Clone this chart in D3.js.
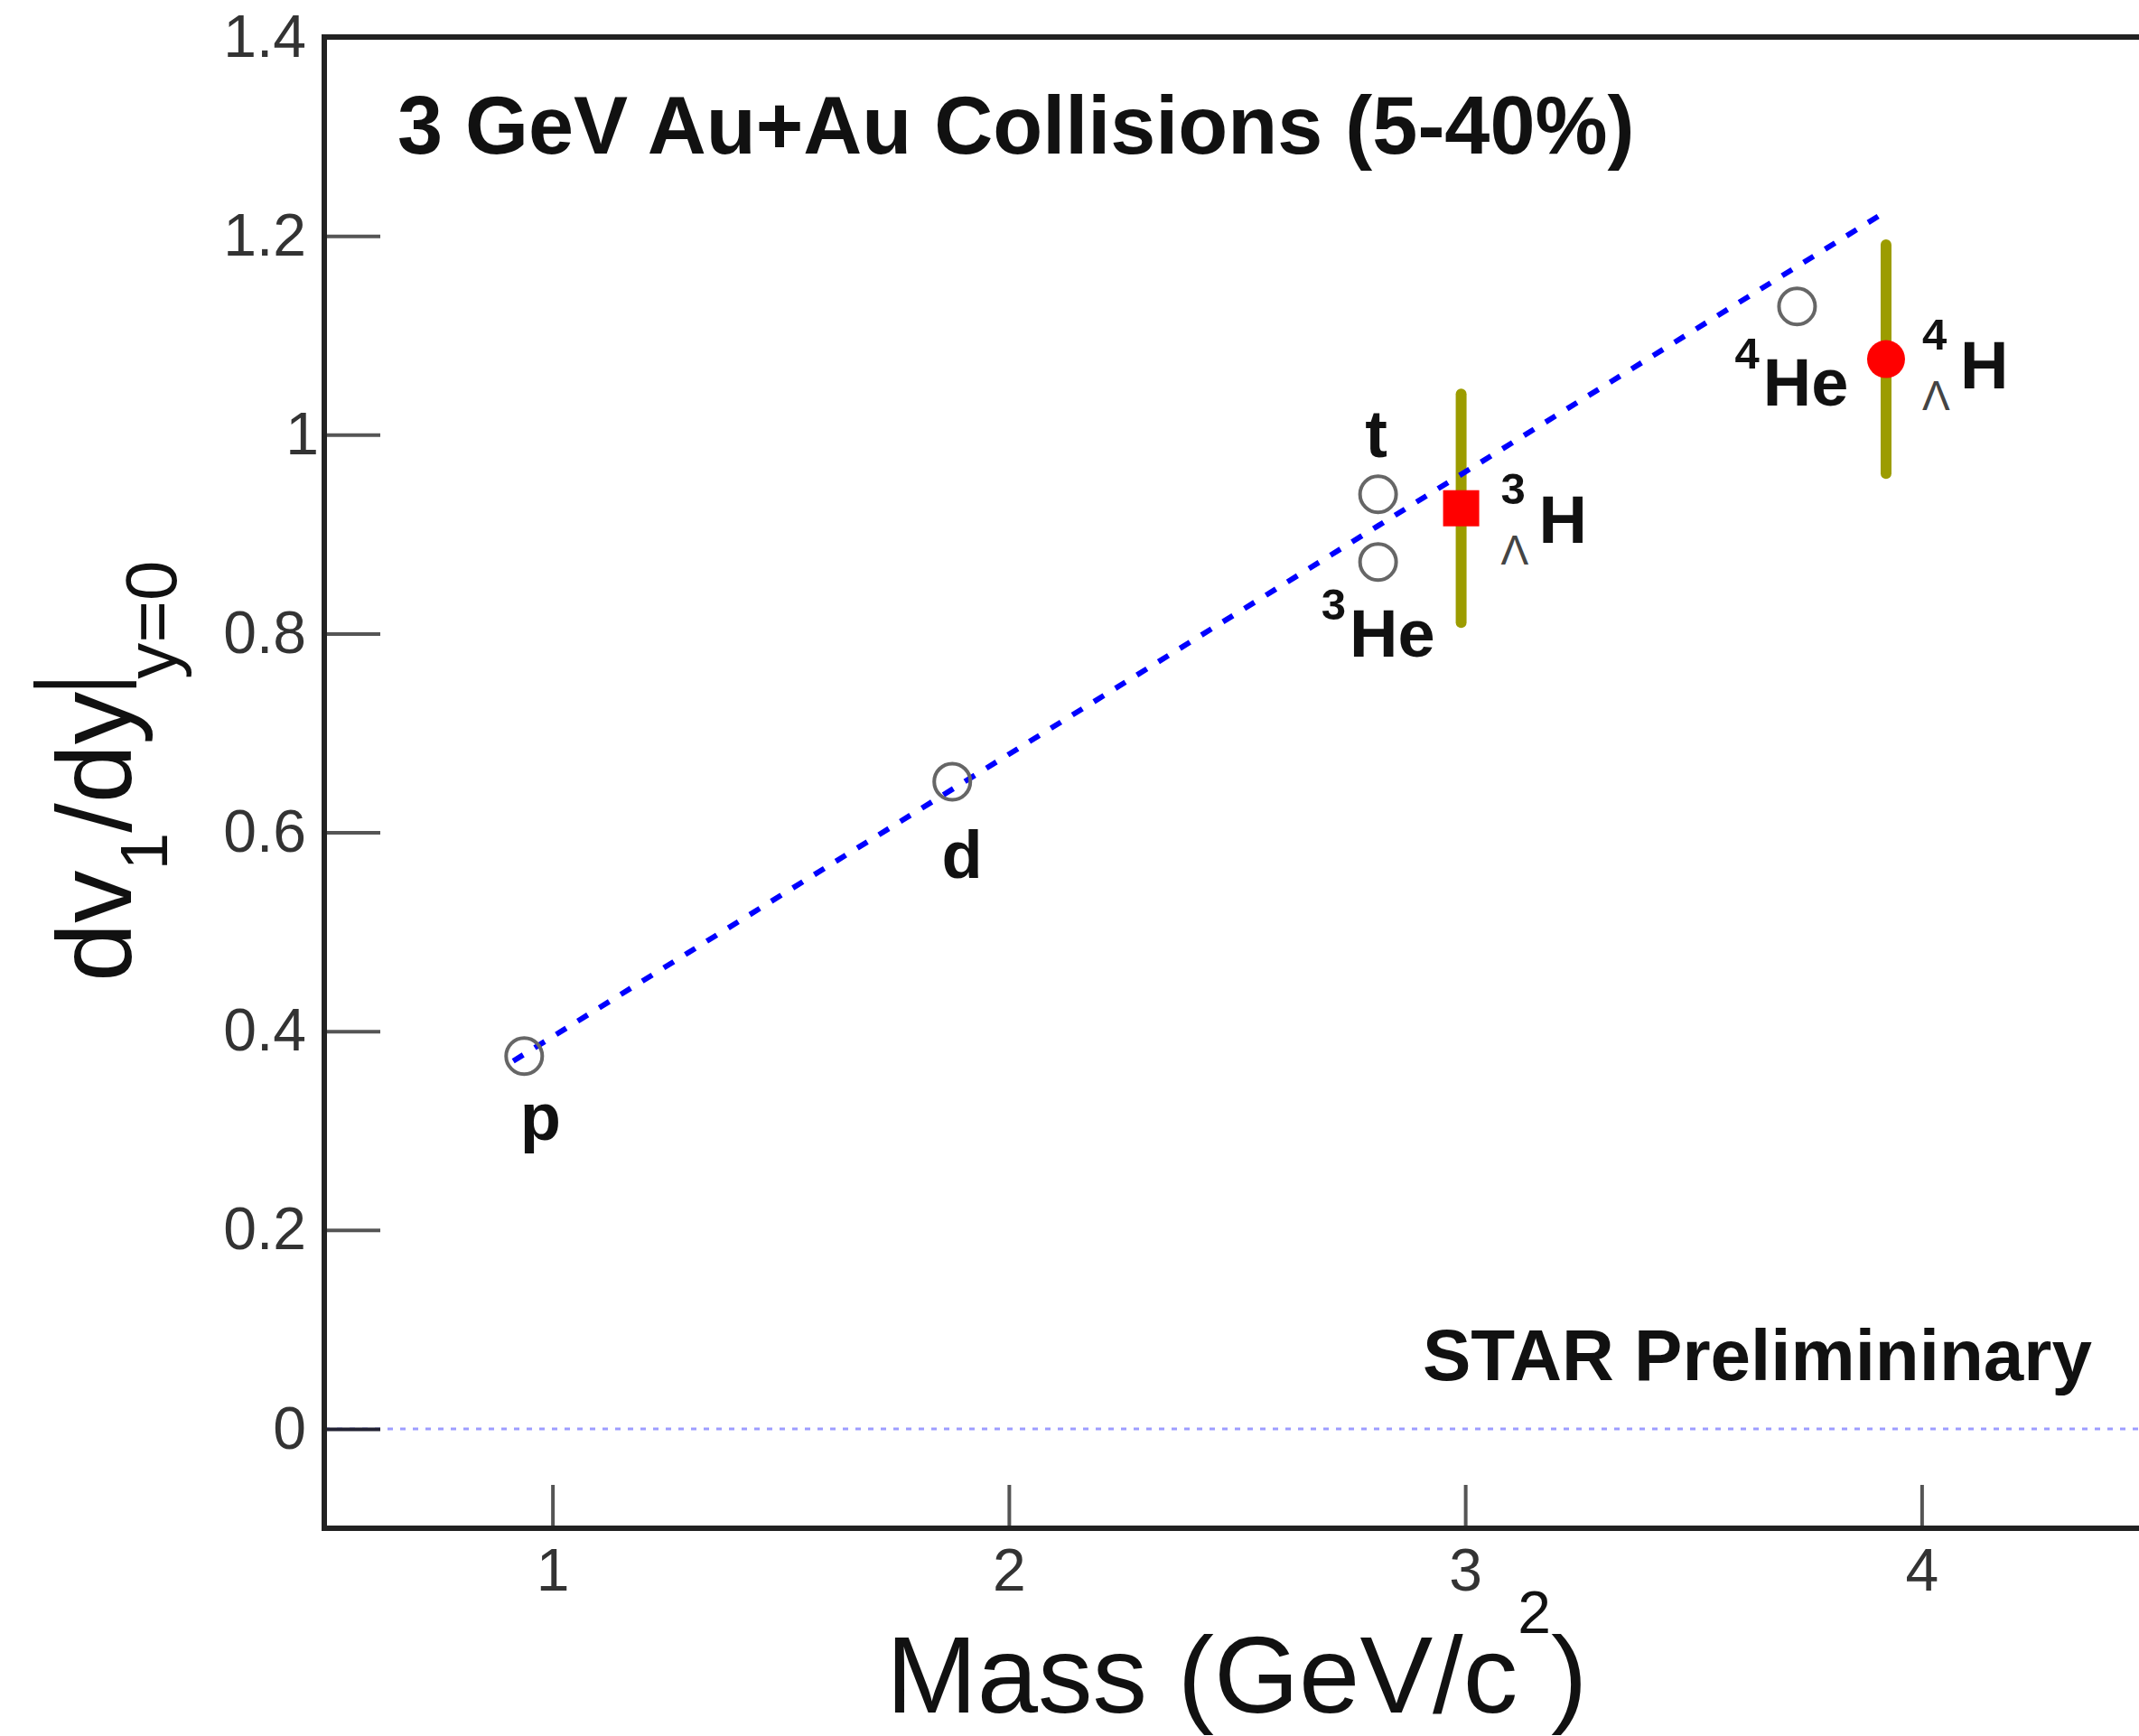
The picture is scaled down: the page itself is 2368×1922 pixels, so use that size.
<!DOCTYPE html>
<html>
<head>
<meta charset="UTF-8">
<script src="https://d3js.org/d3.v7.min.js"></script>
<style>
    body { margin: 0; background: #fff; }
    svg { display: block; font-family: "Liberation Sans", Arial, sans-serif; }
</style>
</head>
<body>
<svg width="2368" height="1922"></svg>
<script>
// light nuclei: mass (GeV/c^2) and dv1/dy slope
const nuclei = ["p", "d", "t", "3He", "4He"];
const nucleiMass = [0.938, 1.876, 2.809, 2.809, 3.727];
const nucleiSlope = [0.375, 0.651, 0.940, 0.872, 1.129];

// hypernuclei with error bars
const hyper = ["3LH", "4LH"];
const hyperMass = [2.991, 3.922];
const hyperSlope = [0.926, 1.076];
const hyperErr = [0.115, 0.115];

// mass scaling line
const fitMass = [0.914, 3.92];
const fitSlope = [0.370, 1.224];

const xTicks = [1, 2, 3, 4];
const yTicks = [0, 0.2, 0.4, 0.6, 0.8, 1, 1.2, 1.4];

const svg = d3.select("svg");
const x = d3.scaleLinear().domain([0.5, 4.5]).range([359, 2380]);
const y = d3.scaleLinear().domain([-0.1, 1.4]).range([1692, 41]);

// zero line
svg.append("line")
    .attr("x1", x(0.5)).attr("x2", x(4.5))
    .attr("y1", y(0)).attr("y2", y(0))
    .attr("stroke", "#9d9dff").attr("stroke-width", 3)
    .attr("stroke-dasharray", "6,8");

// axes
const yAxis = svg.append("g")
    .attr("transform", `translate(${x(0.5)},0)`)
    .call(d3.axisLeft(y).tickValues(yTicks).tickSize(-62).tickPadding(20)
        .tickFormat(d3.format("~g")));
const xAxis = svg.append("g")
    .attr("transform", `translate(0,${y(-0.1)})`)
    .call(d3.axisBottom(x).tickValues(xTicks).tickSize(-48).tickPadding(22)
        .tickFormat(d3.format("d")));

[xAxis, yAxis].forEach(g => {
    g.select(".domain").remove();
    g.selectAll(".tick line").attr("stroke", "#555").attr("stroke-width", 4);
    g.selectAll(".tick text")
        .attr("font-size", 66)
        .attr("font-family", "Liberation Sans, Arial, sans-serif")
        .attr("fill", "#333");
});
yAxis.selectAll(".tick").filter(d => d === 0).select("line").attr("stroke", "#223");
yAxis.selectAll(".tick").filter(d => d === 1).select("text").attr("dx", 14);

// frame
const frame = svg.append("g").attr("stroke", "#222").attr("stroke-width", 6).attr("fill", "none");
frame.append("path")
    .attr("d", `M${x(4.5)},${y(1.4)}H${x(0.5)}V${y(-0.1)}H${x(4.5)}`);

// error bars
svg.selectAll(".err")
    .data(hyper)
    .join("line")
    .attr("x1", (d, i) => x(hyperMass[i]))
    .attr("x2", (d, i) => x(hyperMass[i]))
    .attr("y1", (d, i) => y(hyperSlope[i] - hyperErr[i]))
    .attr("y2", (d, i) => y(hyperSlope[i] + hyperErr[i]))
    .attr("stroke", "#9c9c00")
    .attr("stroke-width", 12)
    .attr("stroke-linecap", "round");

// fit line
svg.append("path")
    .datum(d3.zip(fitMass, fitSlope))
    .attr("d", d3.line().x(d => x(d[0])).y(d => y(d[1])))
    .attr("fill", "none")
    .attr("stroke", "#0000ff")
    .attr("stroke-width", 6)
    .attr("stroke-dasharray", "13,15");

// open circles
svg.selectAll(".nuc")
    .data(nuclei)
    .join("circle")
    .attr("cx", (d, i) => x(nucleiMass[i]))
    .attr("cy", (d, i) => y(nucleiSlope[i]))
    .attr("r", 20)
    .attr("fill", "none")
    .attr("stroke", "#666")
    .attr("stroke-width", 4);

// hypernuclei markers
svg.append("rect")
    .attr("x", x(hyperMass[0]) - 20).attr("y", y(hyperSlope[0]) - 20)
    .attr("width", 40).attr("height", 40)
    .attr("fill", "#ff0000");
svg.append("circle")
    .attr("cx", x(hyperMass[1])).attr("cy", y(hyperSlope[1]))
    .attr("r", 21)
    .attr("fill", "#ff0000");

// nucleus labels
const lab = svg.append("g").attr("font-weight", "bold").attr("font-size", 74).attr("fill", "#111");
const simpleLabels = [
    { i: 0, dx: 18, dy: 93 },
    { i: 1, dx: 11, dy: 107 },
    { i: 2, dx: -2, dy: -41 }
];
simpleLabels.forEach(o => {
    lab.append("text")
        .attr("x", x(nucleiMass[o.i]) + o.dx)
        .attr("y", y(nucleiSlope[o.i]) + o.dy)
        .attr("text-anchor", "middle")
        .text(nuclei[o.i]);
});
const heLabels = [
    { i: 3, sup: "3", dx: 63, dy: 105 },
    { i: 4, sup: "4", dx: 57, dy: 110 }
];
heLabels.forEach(o => {
    const t = lab.append("text")
        .attr("x", x(nucleiMass[o.i]) + o.dx)
        .attr("y", y(nucleiSlope[o.i]) + o.dy)
        .attr("text-anchor", "end");
    t.append("tspan").attr("font-size", 49).attr("dy", -41).text(o.sup);
    t.append("tspan").attr("dy", 41).attr("dx", 4).text("He");
});
const hLabels = [
    { i: 0, sup: "3", dx: 86, dy: 38 },
    { i: 1, sup: "4", dx: 82, dy: 32 }
];
hLabels.forEach(o => {
    const hx = x(hyperMass[o.i]) + o.dx;
    const hy = y(hyperSlope[o.i]) + o.dy;
    lab.append("text").attr("x", hx - 42).attr("y", hy - 43).attr("font-size", 49).text(o.sup);
    lab.append("text").attr("x", hx - 42).attr("y", hy + 24)
        .attr("font-size", 46).attr("font-weight", "normal").attr("fill", "#444").text("Λ");
    lab.append("text").attr("x", hx).attr("y", hy).text("H");
});

// titles
svg.append("text")
    .attr("x", 440).attr("y", 170)
    .attr("font-size", 90).attr("font-weight", "bold").attr("fill", "#111")
    .text("3 GeV Au+Au Collisions (5-40%)");
svg.append("text")
    .attr("x", 1575).attr("y", 1528)
    .attr("font-size", 80).attr("font-weight", "bold").attr("fill", "#111")
    .text("STAR Prelimininary");

// x label
const xl = svg.append("text")
    .attr("x", 981).attr("y", 1896)
    .attr("font-size", 121).attr("fill", "#111");
xl.append("tspan").text("Mass (GeV/c");
xl.append("tspan").attr("font-size", 66).attr("dy", -88).text("2");
xl.append("tspan").attr("dy", 88).text(")");

// y label
const yl = svg.append("g").attr("transform", "translate(145,1087) rotate(-90)").attr("fill", "#111");
const yt = yl.append("text").attr("font-size", 117);
yt.append("tspan").text("dv");
yt.append("tspan").attr("font-size", 75).attr("dy", 40).text("1");
yt.append("tspan").attr("dy", -40).text("/dy");
const len = yt.node().getComputedTextLength();
yl.append("line")
    .attr("x1", len + 8).attr("x2", len + 8)
    .attr("y1", -108).attr("y2", 6)
    .attr("stroke", "#111").attr("stroke-width", 7);
yl.append("text")
    .attr("x", len + 14).attr("y", 50)
    .attr("font-size", 80)
    .text("y=0");
</script>
</body>
</html>
